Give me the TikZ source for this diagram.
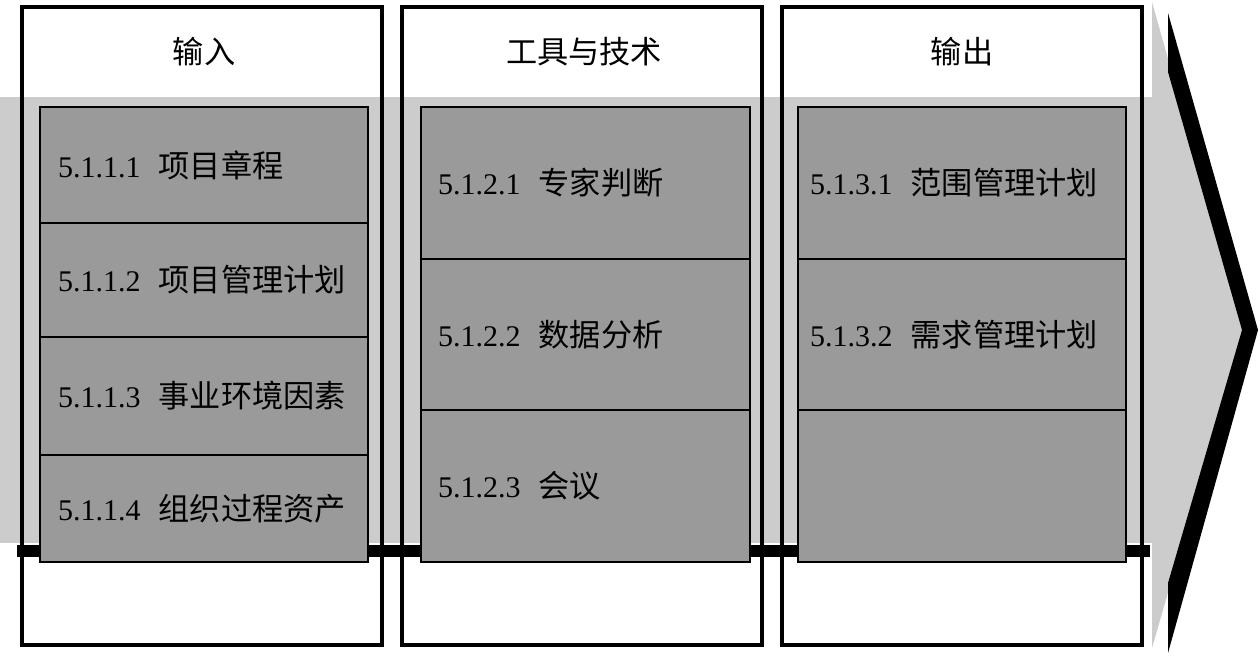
\documentclass[tikz,border=0pt]{standalone}
\usepackage{fontspec}
\setmainfont{Liberation Serif}
\newfontfamily\cjk[Scale=1.04]{Noto Sans CJK SC}
\definecolor{bandgray}{RGB}{204,204,204}
\definecolor{boxgray}{RGB}{154,154,154}
\begin{document}
\begin{tikzpicture}[x=1pt,y=-1pt,
  col/.style={draw=black, line width=3.2pt, anchor=north west, inner sep=0pt, outer sep=0pt, minimum width=360pt, minimum height=638pt},
  cell/.style={draw=black, fill=boxgray, line width=2pt, anchor=north west, inner sep=0pt, outer sep=0pt},
  lbl/.style={anchor=west, inner sep=0pt, font=\fontsize{30}{34}\selectfont},
  hdr/.style={inner sep=0pt, font=\fontsize{30}{34}\selectfont\cjk}]
\useasboundingbox (0,0) rectangle (1260,656);
% background arrow band
\fill[bandgray] (0,97) rectangle (1152,543);
\fill[bandgray] (1152,2) -- (1244,329) -- (1152,648) -- cycle;
\fill[black] (1168,13) -- (1258,330) -- (1168,653) -- (1168,583) -- (1242,330) -- (1168,72) -- cycle;
\fill[black] (17,545) rectangle (1150,557);
% columns
\node[col] (c1) at (22,7) {};
\node[col] (c2) at (402,7) {};
\node[col] (c3) at (782,7) {};
% headers
\node[hdr] (h1) at (204,52) {输入};
\node[hdr] (h2) at (584,52) {工具与技术};
\node[hdr] (h3) at (962,52) {输出};
% column 1 cells
\node[cell, minimum width=328pt, minimum height=116pt] (a1) at (40,107) {};
\node[cell, minimum width=328pt, minimum height=114pt] (a2) at (40,223) {};
\node[cell, minimum width=328pt, minimum height=118pt] (a3) at (40,337) {};
\node[cell, minimum width=328pt, minimum height=107pt] (a4) at (40,455) {};
\node[lbl] (ta1) at ([xshift=18pt]a1.west) {5.1.1.1\hspace{18pt}{\cjk 项目章程}};
\node[lbl] (ta2) at ([xshift=18pt]a2.west) {5.1.1.2\hspace{18pt}{\cjk 项目管理计划}};
\node[lbl] (ta3) at ([xshift=18pt]a3.west) {5.1.1.3\hspace{18pt}{\cjk 事业环境因素}};
\node[lbl] (ta4) at ([xshift=18pt]a4.west) {5.1.1.4\hspace{18pt}{\cjk 组织过程资产}};
% column 2 cells
\node[cell, minimum width=329pt, minimum height=152pt] (b1) at (421,107) {};
\node[cell, minimum width=329pt, minimum height=151pt] (b2) at (421,259) {};
\node[cell, minimum width=329pt, minimum height=152pt] (b3) at (421,410) {};
\node[lbl] (tb1) at ([xshift=17pt]b1.west) {5.1.2.1\hspace{18pt}{\cjk 专家判断}};
\node[lbl] (tb2) at ([xshift=17pt]b2.west) {5.1.2.2\hspace{18pt}{\cjk 数据分析}};
\node[lbl] (tb3) at ([xshift=17pt]b3.west) {5.1.2.3\hspace{18pt}{\cjk 会议}};
% column 3 cells
\node[cell, minimum width=328pt, minimum height=152pt] (d1) at (798,107) {};
\node[cell, minimum width=328pt, minimum height=151pt] (d2) at (798,259) {};
\node[cell, minimum width=328pt, minimum height=152pt] (d3) at (798,410) {};
\node[lbl] (td1) at ([xshift=12pt]d1.west) {5.1.3.1\hspace{18pt}{\cjk 范围管理计划}};
\node[lbl] (td2) at ([xshift=12pt]d2.west) {5.1.3.2\hspace{18pt}{\cjk 需求管理计划}};
\end{tikzpicture}
\end{document}
